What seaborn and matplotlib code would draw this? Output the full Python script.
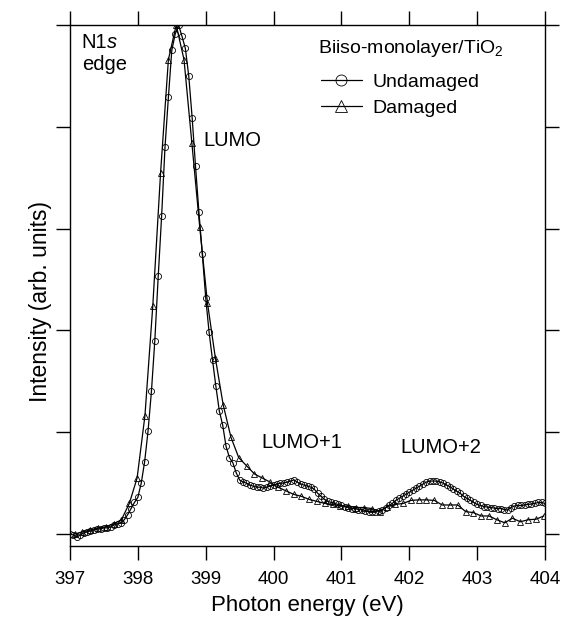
import numpy as np
import pandas as pd
import matplotlib
matplotlib.use("Agg")
import matplotlib.pyplot as plt
import seaborn as sns

sns.set_style("ticks")
plt.rcParams['font.family'] = ['Liberation Sans', 'DejaVu Sans']
plt.rcParams['mathtext.fontset'] = 'custom'
plt.rcParams['mathtext.rm'] = 'Liberation Sans'
plt.rcParams['mathtext.it'] = 'Liberation Sans:style=italic'
plt.rcParams['text.color'] = 'black'
plt.rcParams['axes.labelcolor'] = 'black'
plt.rcParams['xtick.color'] = 'black'
plt.rcParams['ytick.color'] = 'black'

# Undamaged: photon energy grid 397.00 .. 404.00 eV, 0.05 eV step
undamaged_energy = np.round(np.linspace(397.0, 404.0, 141), 2)
undamaged_intensity = [
    0.00, -0.01, -0.03, -0.01, 0.01, 0.02, 0.03, 0.04, 0.05, 0.05, 0.06, 0.06, 0.07, 0.09, 0.10, 0.11, 0.14, 0.19, 0.25, 0.31,
    0.36, 0.50, 0.71, 1.01, 1.40, 1.90, 2.53, 3.12, 3.80, 4.29, 4.75, 4.91, 5.00, 4.89, 4.77, 4.50, 4.09, 3.61, 3.16, 2.75,
    2.32, 1.98, 1.71, 1.45, 1.21, 1.07, 0.86, 0.75, 0.70, 0.60, 0.53, 0.51, 0.50, 0.48, 0.47, 0.46, 0.46, 0.45, 0.46, 0.47,
    0.48, 0.49, 0.50, 0.50, 0.51, 0.52, 0.53, 0.51, 0.49, 0.48, 0.47, 0.46, 0.44, 0.40, 0.37, 0.34, 0.32, 0.31, 0.30, 0.29,
    0.28, 0.27, 0.26, 0.25, 0.25, 0.24, 0.24, 0.23, 0.22, 0.22, 0.22, 0.23, 0.24, 0.26, 0.28, 0.30, 0.33, 0.35, 0.37, 0.39,
    0.41, 0.43, 0.45, 0.47, 0.49, 0.51, 0.52, 0.52, 0.52, 0.51, 0.50, 0.48, 0.465, 0.44, 0.42, 0.40, 0.37, 0.35, 0.33, 0.31,
    0.29, 0.28, 0.27, 0.265, 0.26, 0.255, 0.25, 0.25, 0.24, 0.235, 0.26, 0.275, 0.28, 0.28, 0.285, 0.29, 0.295, 0.30, 0.31, 0.31,
    0.30,
]

# Damaged: coarser energy grid
damaged_energy = np.round(np.linspace(397.067, 403.982, 61), 3)
damaged_intensity = [
    0.00, 0.02, 0.04, 0.06, 0.07, 0.10, 0.14, 0.30, 0.55, 1.16,
    2.24, 3.55, 4.66, 5.00, 4.66, 3.84, 3.02, 2.27, 1.73, 1.27,
    0.95, 0.75, 0.67, 0.59, 0.55, 0.51, 0.46, 0.425, 0.39, 0.37,
    0.34, 0.32, 0.30, 0.29, 0.275, 0.275, 0.26, 0.26, 0.25, 0.22,
    0.27, 0.29, 0.30, 0.33, 0.335, 0.335, 0.33, 0.285, 0.285, 0.285,
    0.22, 0.21, 0.177, 0.177, 0.14, 0.11, 0.155, 0.12, 0.14, 0.145,
    0.177,
]

x_ticks = [397, 398, 399, 400, 401, 402, 403, 404]
y_ticks = [0, 1, 2, 3, 4, 5]

df_u = pd.DataFrame({"E": undamaged_energy, "I": undamaged_intensity})
df_d = pd.DataFrame({"E": damaged_energy, "I": damaged_intensity})

fig = plt.figure(figsize=(5.63, 6.19), dpi=100)
ax = fig.add_axes([70 / 563, 1 - 546 / 619, 475 / 563, 521 / 619])

sns.lineplot(data=df_u, x="E", y="I", ax=ax, color="black", linewidth=0.9,
             marker="o", markersize=4.4, markerfacecolor="none",
             markeredgecolor="black", markeredgewidth=0.6, label="Undamaged")
sns.lineplot(data=df_d, x="E", y="I", ax=ax, color="black", linewidth=0.9,
             marker="^", markersize=4.4, markerfacecolor="none",
             markeredgecolor="black", markeredgewidth=0.6, label="Damaged")

ax.set_xlim(397, 404)
ax.set_ylim(-0.118, 5.0)
ax.set_xticks(x_ticks)
ax.set_xticklabels([str(t) for t in x_ticks], fontsize=13.5)
ax.set_yticks(y_ticks)
ax.set_yticklabels([])
ax.tick_params(axis="both", direction="out", length=10, width=1.0, color="black",
               labelcolor="black")
ax.tick_params(top=True, right=True, labeltop=False, labelright=False)
ax.tick_params(axis="x", pad=8)
for s in ax.spines.values():
    s.set_visible(True)
    s.set_linewidth(1.0)
    s.set_color("black")

ax.set_xlabel("Photon energy (eV)", fontsize=16, labelpad=5)
ax.set_ylabel("Intensity (arb. units)", fontsize=16.5)
ax.yaxis.set_label_coords(-0.037, 0.47)

n1 = ax.text(0.0246, 0.967, "N1", transform=ax.transAxes, fontsize=14.5,
             va="center", ha="left")
ax.annotate("s", xy=(1.0, 0.5), xycoords=n1, fontsize=14.5, style="italic",
            va="center", ha="left")
ax.text(0.0246, 0.925, "edge", transform=ax.transAxes, fontsize=14.5,
        va="center", ha="left")
ax.text(398.96, 3.87, "LUMO", fontsize=14.5, ha="left", va="center")
ax.text(399.825, 0.894, "LUMO+1", fontsize=14.5, ha="left", va="center")
ax.text(401.863, 0.845, "LUMO+2", fontsize=14.5, ha="left", va="center")

ax.text(0.522, 0.954, "Biiso-monolayer/TiO$_2$", transform=ax.transAxes,
        fontsize=14, ha="left", va="center")
leg = ax.legend(loc="upper left", bbox_to_anchor=(0.512, 0.922), frameon=False,
                fontsize=14, handlelength=2.1, handletextpad=0.55,
                labelspacing=0.42, markerscale=1.8, borderaxespad=0)
for t in leg.get_texts():
    t.set_color("black")

fig.savefig("out.png", dpi=100)
